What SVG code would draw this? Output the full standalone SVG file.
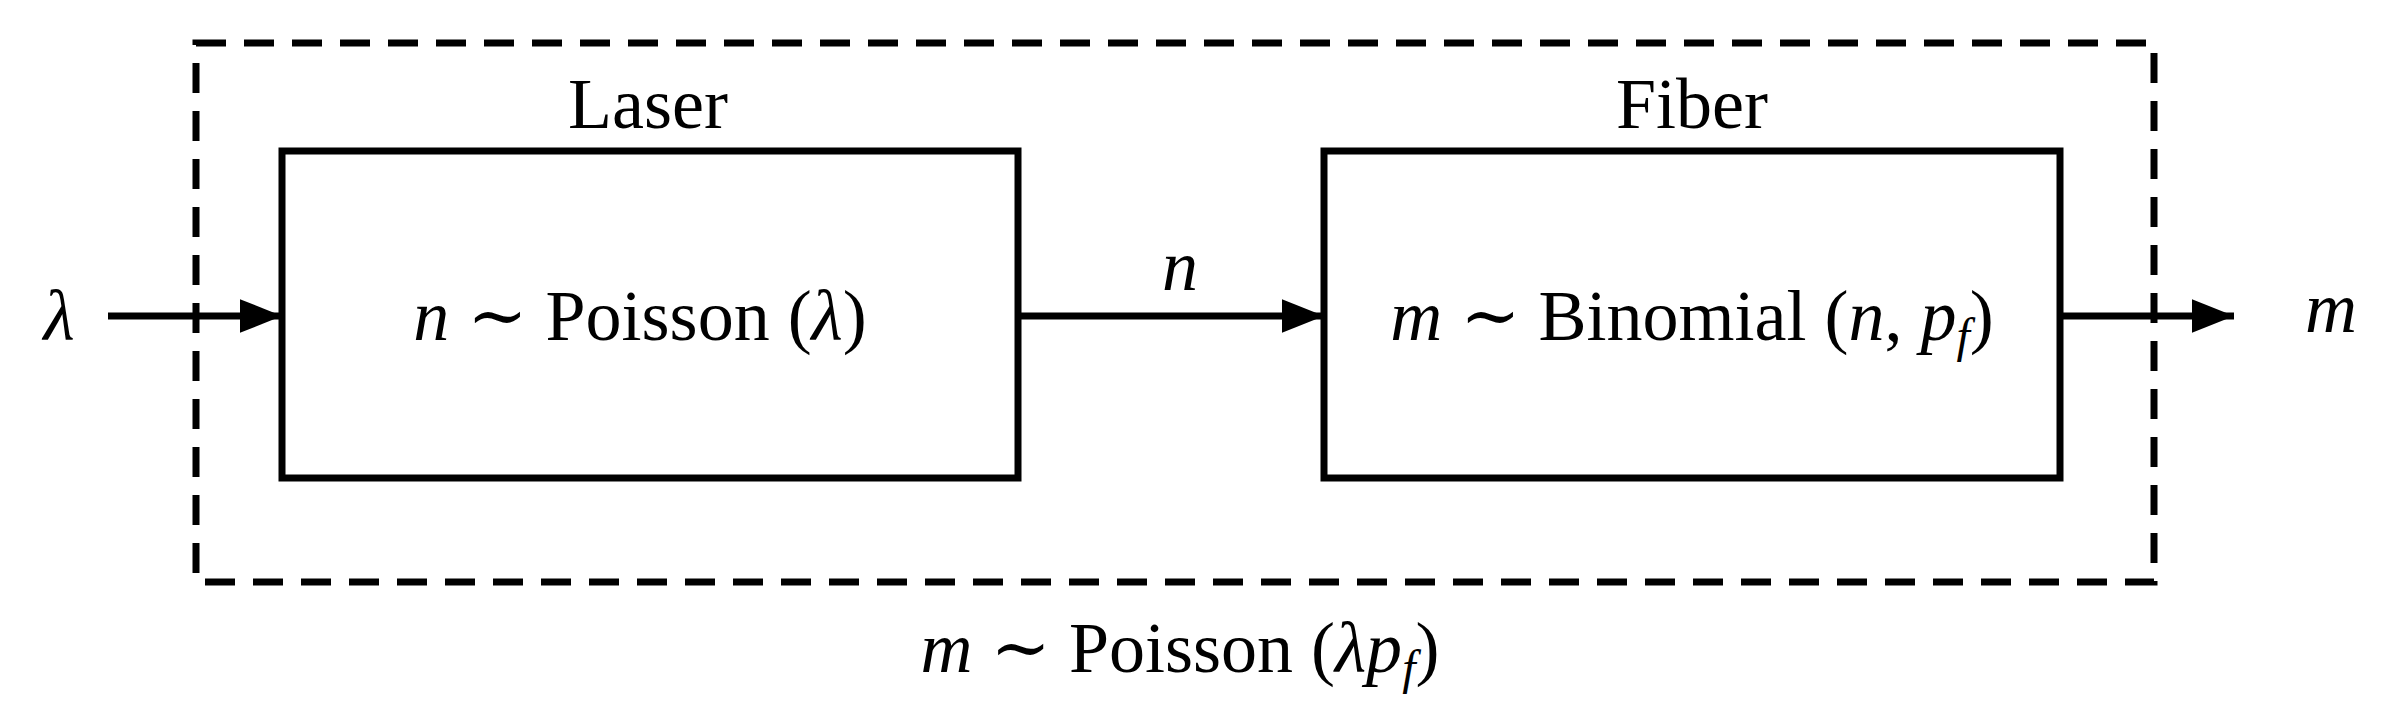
<svg xmlns="http://www.w3.org/2000/svg" width="2407" height="715" viewBox="0 0 2407 715">
<style>
text{font-family:"Liberation Serif","DejaVu Serif",serif;font-size:72px;fill:#000}
.i{font-style:italic}
.box{fill:none;stroke:#000;stroke-width:7}
.ln{stroke:#000;stroke-width:7;fill:none}
</style>
<defs><marker id="ah" viewBox="0 0 10 8" refX="10" refY="4" markerWidth="42" markerHeight="34" markerUnits="userSpaceOnUse" orient="auto"><path d="M0,0L10,4L0,8z"/></marker></defs>
<g id="outer"><rect x="196" y="43" width="1958" height="539" class="box" stroke-dasharray="30,18"/>
<text x="1180" y="672" text-anchor="middle"><tspan class="i">m</tspan> ∼ Poisson (<tspan class="i">λp<tspan font-size="48" dy="12">f</tspan></tspan><tspan dy="-12">)</tspan></text></g>
<g id="laser"><rect x="282" y="151" width="736" height="327" class="box"/>
<text x="648" y="128" text-anchor="middle" font-size="64">Laser</text>
<text x="640" y="340" text-anchor="middle"><tspan class="i">n</tspan> ∼ Poisson (<tspan class="i">λ</tspan>)</text></g>
<g id="fiber"><rect x="1324" y="151" width="736" height="327" class="box"/>
<text x="1692" y="128" text-anchor="middle" font-size="64">Fiber</text>
<text x="1692" y="340" text-anchor="middle"><tspan class="i">m</tspan> ∼ Binomial (<tspan class="i">n</tspan>, <tspan class="i">p<tspan font-size="48" dy="12">f</tspan></tspan><tspan dy="-12">)</tspan></text></g>
<g id="connectors">
<line x1="108" y1="316" x2="282" y2="316" class="ln" marker-end="url(#ah)"/>
<line x1="1018" y1="316" x2="1324" y2="316" class="ln" marker-end="url(#ah)"/>
<line x1="2060" y1="316" x2="2234" y2="316" class="ln" marker-end="url(#ah)"/>
</g>
<text x="59" y="340" text-anchor="middle" class="i">λ</text>
<text x="1180" y="290" text-anchor="middle" class="i" font-size="58">n</text>
<text x="2331" y="332" text-anchor="middle" class="i">m</text>
</svg>
